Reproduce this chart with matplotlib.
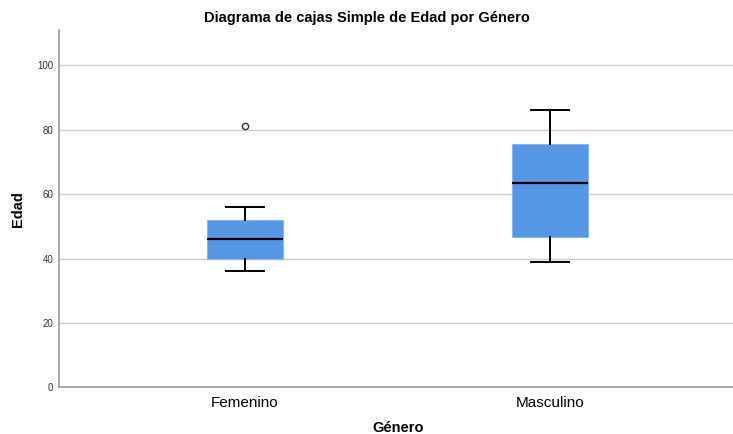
import matplotlib
matplotlib.use("Agg")
import matplotlib.pyplot as plt

# Summary statistics of age (Edad) by gender (Género)
genders = ["Femenino", "Masculino"]
q1 = [40.0, 46.7]
medians = [46.0, 63.6]
q3 = [51.9, 75.6]
whisker_low = [36.0, 39.0]
whisker_high = [56.0, 86.2]
outliers = [[81.1], []]

plt.rcParams["font.family"] = ["Liberation Sans", "DejaVu Sans"]

stats = []
for i, name in enumerate(genders):
    stats.append({
        "label": name,
        "q1": q1[i],
        "med": medians[i],
        "q3": q3[i],
        "whislo": whisker_low[i],
        "whishi": whisker_high[i],
        "fliers": outliers[i],
    })

fig = plt.figure(figsize=(7.33, 4.34), dpi=100)
ax = fig.add_axes([0.0805, 0.1076, 0.9195, 0.8234])

ax.bxp(
    stats,
    positions=[1, 2],
    widths=0.25,
    patch_artist=True,
    boxprops=dict(facecolor="#5596e5", edgecolor="#8ab8ee", linewidth=0.8),
    medianprops=dict(color="black", linewidth=1.6),
    whiskerprops=dict(color="black", linewidth=1.4),
    capprops=dict(color="black", linewidth=1.4),
    capwidths=0.125,
    flierprops=dict(marker="o", markersize=4.5, markerfacecolor="white",
                    markeredgecolor="#333333", markeredgewidth=1.0),
    zorder=3,
)

ax.set_xlim(0.39, 2.6)
ax.set_ylim(0, 111)
ax.set_yticks(range(0, 101, 20))
ax.tick_params(axis="y", length=0, labelsize=7, colors="#333333", pad=4)
ax.tick_params(axis="x", length=0, labelsize=11, pad=6)
ax.grid(axis="y", color="#cccccc", linewidth=1.0, zorder=0)

for side in ("top", "right"):
    ax.spines[side].set_visible(False)
for side in ("left", "bottom"):
    ax.spines[side].set_color("#999999")
    ax.spines[side].set_linewidth(1.2)

ax.set_ylabel("Edad", fontsize=10.5, fontweight="bold")
ax.yaxis.set_label_coords(-0.051, 0.5)
ax.set_xlabel("Género", fontsize=10.5, fontweight="bold", va="center")
ax.xaxis.set_label_coords(0.503, -0.114)
fig.text(0.5, 0.958, "Diagrama de cajas Simple de Edad por Género",
         ha="center", va="center", fontsize=10.5, fontweight="bold")

fig.savefig("out.png", dpi=100)
